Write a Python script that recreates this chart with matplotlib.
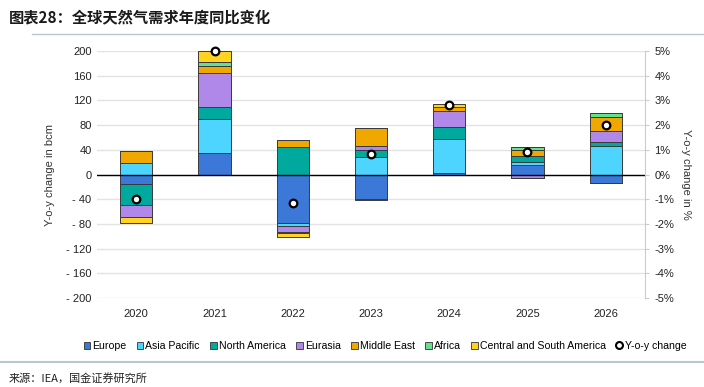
import numpy as np
import matplotlib.pyplot as plt
from matplotlib.lines import Line2D
from matplotlib.patches import Patch

plt.rcParams['font.family'] = ['Liberation Sans', 'Noto Sans CJK SC', 'DejaVu Sans']

years = ['2020', '2021', '2022', '2023', '2024', '2025', '2026']
regions = ['Europe', 'Asia Pacific', 'North America', 'Eurasia',
           'Middle East', 'Africa', 'Central and South America']
europe = [-15, 35, -79, -39, 3, 16, -13]
asia_pacific = [18, 55, -4, 29, 54, 5, 47]
north_america = [-35, 19, 45, 10, 20, 9, 5]
eurasia = [-18, 56, -10, 8, 26, -6, 18]
middle_east = [20, 11, 11, 28, 7, 10, 23]
africa = [0.5, 7, -1, 1, 0, 4, 7]
cs_america = [-10, 17, -7, -2, 5, 0.5, -1.5]
yoy_pct = [-1.0, 5.0, -1.15, 0.85, 2.8, 0.92, 2.0]

series = [europe, asia_pacific, north_america, eurasia, middle_east, africa, cs_america]
colors = ['#3C78D8', '#4DD4FF', '#00A99D', '#B088EA', '#F0A800', '#66E08C', '#FFD31F']

fig = plt.figure(figsize=(7.04, 3.87), dpi=100)
ax = fig.add_axes([0.138, 0.23, 0.778, 0.638])
ax2 = ax.twinx()

x = np.arange(len(years))
pos_base = np.zeros(len(years))
neg_base = np.zeros(len(years))
for vals, c in zip(series, colors):
    v = np.array(vals, dtype=float)
    p = np.where(v > 0, v, 0)
    n = np.where(v < 0, v, 0)
    ax.bar(x, p, 0.41, bottom=pos_base, color=c, edgecolor='#3a3a3a', linewidth=0.7, zorder=3)
    ax.bar(x, n, 0.41, bottom=neg_base, color=c, edgecolor='#3a3a3a', linewidth=0.7, zorder=3)
    pos_base += p
    neg_base += n

ax.axhline(0, color='black', linewidth=1, zorder=4)
ax.set_ylim(-200, 200)
ax.set_xlim(-0.5, 6.5)
ax.set_yticks(np.arange(-200, 201, 40))
ax.set_yticklabels([('- %d' % -t) if t < 0 else str(t) for t in range(-200, 201, 40)])
ax.set_xticks(x)
ax.set_xticklabels(years)
ax.grid(axis='y', color='#e3e3e3', linewidth=1, zorder=0)
ax.set_axisbelow(True)
for s in ax.spines.values():
    s.set_visible(False)
ax.tick_params(length=0, labelsize=8, colors='#222222', pad=4)
ax.tick_params(axis='x', pad=8)
ax.set_ylabel('Y-o-y change in bcm', fontsize=8, color='#333333', labelpad=8)

ax2.plot(x, yoy_pct, 'o', markersize=5.5, markerfacecolor='white',
         markeredgecolor='black', markeredgewidth=1.6, zorder=5, clip_on=False)
ax2.set_ylim(-5, 5)
ax2.set_yticks(range(-5, 6))
ax2.set_yticklabels(['%d%%' % t for t in range(-5, 6)])
for s in ['top', 'left', 'bottom']:
    ax2.spines[s].set_visible(False)
ax2.spines['right'].set_color('#cccccc')
ax2.tick_params(length=3, color='#cccccc', labelsize=8, colors='#222222', pad=4)
ax2.set_ylabel('Y-o-y change in %', fontsize=8, color='#333333', rotation=-90, labelpad=12)

handles = [Patch(facecolor=c, edgecolor='#333333', linewidth=0.6) for c in colors]
handles.append(Line2D([], [], marker='o', linestyle='none', markersize=5,
                      markerfacecolor='white', markeredgecolor='black', markeredgewidth=1.5))
fig.legend(handles, regions + ['Y-o-y change'], loc='center', bbox_to_anchor=(0.547, 0.106),
           ncol=8, frameon=False, fontsize=7.6, handlelength=0.6, handleheight=0.6,
           handletextpad=0.2, columnspacing=1.0)

fig.text(0.012, 0.955, '图表28：全球天然气需求年度同比变化', fontsize=11, fontweight='bold',
         family=['Noto Sans CJK SC'], color='#1a1a1a', va='center', style='italic')
fig.add_artist(Line2D([0.045, 1.0], [0.913, 0.913], color='#b8c8d0', linewidth=1))
fig.add_artist(Line2D([0.0, 1.0], [0.065, 0.065], color='#b8c8d0', linewidth=1.5))
fig.text(0.012, 0.022, '来源：IEA，国金证券研究所', fontsize=8, family=['Noto Sans CJK SC'],
         color='#222222', va='center')

fig.savefig('out.png', dpi=100)
